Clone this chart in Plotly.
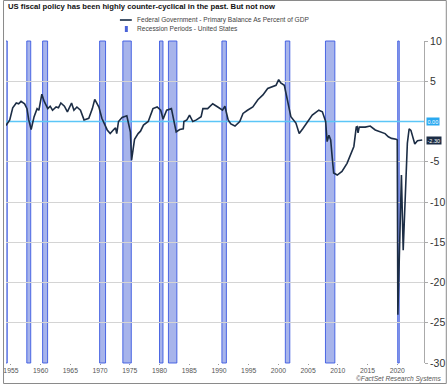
import plotly.graph_objects as go

# ---- data ----
years = [1954.17, 1954.8, 1955.3, 1955.9, 1956.3, 1956.7, 1957.3, 1957.7, 1958.0, 1958.4,
         1958.9, 1959.4, 1959.7, 1960.2, 1960.6, 1961.2, 1961.6, 1962.0, 1962.6, 1963.0,
         1963.4, 1964.0, 1964.5, 1965.2, 1965.6, 1966.1, 1966.7, 1967.3, 1968.1, 1968.7,
         1969.1, 1969.8, 1970.3, 1970.8, 1971.2, 1971.7, 1972.0, 1972.3, 1972.6, 1972.8,
         1973.1, 1973.7, 1974.5, 1975.1, 1975.3, 1975.8, 1976.4, 1976.8, 1977.3, 1978.1,
         1978.9, 1979.6, 1980.2, 1980.6, 1981.2, 1982.0, 1982.8, 1983.4, 1984.0, 1984.1,
         1984.6, 1985.05, 1985.6, 1986.2, 1987.0, 1987.3, 1988.1, 1988.95, 1989.8, 1990.6,
         1991.0, 1991.55, 1992.0, 1992.7, 1993.5, 1994.05, 1994.8, 1995.7, 1996.55, 1997.4,
         1998.2, 1999.05, 1999.6, 2000.05, 2000.4, 2001.0, 2001.45, 2001.8, 2002.1, 2002.95,
         2003.5, 2004.1, 2004.9, 2005.7, 2006.8, 2007.4, 2007.95, 2008.2, 2008.5, 2008.8,
         2009.05, 2009.3, 2009.9, 2010.7, 2011.55, 2012.1, 2012.7, 2013.1, 2013.25, 2013.4,
         2013.6, 2014.6, 2015.45, 2016.3, 2017.1, 2017.95, 2018.5, 2019.05, 2019.8, 2020.0,
         2020.1, 2020.7, 2021.0, 2021.7, 2022.0, 2022.3, 2022.95, 2023.4, 2024.2]
primary_balance = [-0.5, 0.2, 1.7, 2.3, 2.2, 2.5, 2.2, 1.6, 0.2, -1.0,
                   0.6, 1.6, 1.4, 3.4, 2.5, 1.6, 1.9, 1.4, 1.8, 1.7,
                   2.3, 1.9, 1.2, 2.3, 1.4, 1.8, 1.4, 0.2, 0.4, 1.6,
                   2.75, 1.8, 0.4, -0.5, -1.05, -1.5, -1.2, -1.0, -0.8, -1.5,
                   0.0, 0.5, 0.7, -1.3, -4.8, -2.2, -1.5, -1.2, -0.45, 0.0,
                   1.6, 1.8, 1.4, 0.3, 1.4, 1.6, -1.3, -1.0, -0.9, 0.0,
                   0.2, 0.8, 0.0, 0.2, 0.6, 1.6, 1.6, 2.2, 1.8, 1.4,
                   1.9, 0.2, -0.3, -0.56, 0.0, 1.0, 1.4, 1.8, 2.7, 3.3,
                   4.1, 4.3, 4.5, 5.2, 4.8, 4.5, 2.9, 1.6, 0.6, -0.2,
                   -1.5, -0.9, 0.0, 0.8, 1.4, 1.2, 0.0, -2.5, -1.7, -2.3,
                   -4.4, -6.4, -6.65, -6.2, -5.2, -4.2, -3.1, -0.7, -0.65, -1.4,
                   -0.7, -0.7, -0.56, -1.05, -1.25, -1.5, -1.9, -2.1, -2.2, -2.3,
                   -24.0, -6.65, -16.0, -2.7, -0.9, -1.1, -2.8, -2.4, -2.3]

recession_start = [1953.58, 1957.67, 1960.33, 1969.92, 1973.83, 1980.0, 1981.5, 1990.5, 2001.17, 2007.92, 2020.08]
recession_end = [1954.38, 1958.33, 1961.17, 1970.92, 1975.25, 1980.58, 1982.92, 1991.25, 2001.92, 2009.5, 2020.33]

x_ticks = list(range(1955, 2021, 5))
x_tick_labels = [str(y) for y in x_ticks]
y_ticks = [10, 5, -5, -10, -15, -20, -25, -30]
y_tick_labels = ["10", "5", "-5", "-10", "-15", "-20", "-25", "-30"]

title_text = "US fiscal policy has been highly counter-cyclical in the past. But not now"
series_name = "Federal Government - Primary Balance As Percent of GDP"
recession_name = "Recession Periods - United States"
source_text = "©FactSet Research Systems"
last_value = -2.30

# ---- layout geometry ----
W, H = 448, 384
ML, MR, MT, MB = 3, 23, 41, 21
PW, PH = W - ML - MR, H - MT - MB


def px(x):
    return (x - ML) / PW


def py(y):
    return (H - MB - y) / PH


FONT = "Liberation Sans, Arial, sans-serif"

fig = go.Figure()
fig.add_trace(go.Scatter(x=years, y=primary_balance, mode="lines",
                         line=dict(color="#1c2d45", width=1.6), showlegend=False,
                         hoverinfo="skip"))

shapes = []
for s, e in zip(recession_start, recession_end):
    shapes.append(dict(type="rect", xref="x", yref="paper", x0=s, x1=e, y0=0, y1=1,
                       fillcolor="rgba(80,105,215,0.5)",
                       line=dict(color="rgba(60,90,225,0.9)", width=1), layer="below"))
# zero line
shapes.append(dict(type="line", xref="paper", yref="y", x0=0, x1=1, y0=0, y1=0,
                   line=dict(color="#5cc6f7", width=1.5), layer="below"))
# outer frame
shapes.append(dict(type="rect", xref="paper", yref="paper",
                   x0=px(0.5), x1=px(W - 0.5), y0=py(H - 0.5), y1=py(0.5),
                   line=dict(color="#8a8a8a", width=1), fillcolor="rgba(0,0,0,0)"))
# legend symbols
shapes.append(dict(type="line", xref="paper", yref="paper",
                   x0=px(118), x1=px(130), y0=py(20), y1=py(20),
                   line=dict(color="#44556b", width=2)))
shapes.append(dict(type="rect", xref="paper", yref="paper",
                   x0=px(123), x1=px(126), y0=py(32), y1=py(26),
                   line=dict(width=0), fillcolor="#4a63d8"))

annotations = [
    dict(text="<b>" + title_text + "</b>", x=px(3), y=py(7), xref="paper", yref="paper",
         xanchor="left", yanchor="middle", showarrow=False,
         font=dict(family=FONT, size=7.7, color="#111")),
    dict(text=series_name, x=px(133), y=py(20), xref="paper", yref="paper",
         xanchor="left", yanchor="middle", showarrow=False,
         font=dict(family=FONT, size=6.6, color="#444")),
    dict(text=recession_name, x=px(133), y=py(29), xref="paper", yref="paper",
         xanchor="left", yanchor="middle", showarrow=False,
         font=dict(family=FONT, size=6.6, color="#444")),
    dict(text="<i>" + source_text + "</i>", x=px(444), y=py(379), xref="paper", yref="paper",
         xanchor="right", yanchor="middle", showarrow=False,
         font=dict(family=FONT, size=6.6, color="#555")),
    dict(text="0.00", x=px(427), y=0, xref="paper", yref="y",
         xanchor="left", yanchor="middle", showarrow=False, bgcolor="#2aa9f0",
         borderpad=0.5, font=dict(family=FONT, size=5.5, color="white")),
    dict(text=f"{last_value:.2f}", x=px(427), y=last_value, xref="paper", yref="y",
         xanchor="left", yanchor="middle", showarrow=False, bgcolor="#1c2d45",
         borderpad=0.5, font=dict(family=FONT, size=5.5, color="white")),
]

fig.update_layout(
    width=W, height=H,
    margin=dict(l=ML, r=MR, t=MT, b=MB, pad=0),
    paper_bgcolor="white", plot_bgcolor="white",
    shapes=shapes, annotations=annotations, showlegend=False,
    xaxis=dict(range=[1954.17, 2024.5], tickvals=x_ticks, ticktext=x_tick_labels,
               showgrid=False, zeroline=False, showline=False,
               ticks="outside", ticklen=1, tickcolor="#999",
               tickfont=dict(family=FONT, size=6.8, color="#555")),
    yaxis=dict(range=[-30, 10], side="right", tickvals=y_ticks, ticktext=y_tick_labels,
               showgrid=True, gridcolor="#d4d4d4", gridwidth=1, zeroline=False,
               showline=True, linecolor="#aaaaaa", linewidth=1,
               ticks="outside", ticklen=3, tickcolor="#aaaaaa",
               tickfont=dict(family=FONT, size=10.5, color="#333")),
)

fig.write_html("out.html", config={"displayModeBar": False},
               post_script="document.body.style.margin='0';document.body.style.overflow='hidden';")
